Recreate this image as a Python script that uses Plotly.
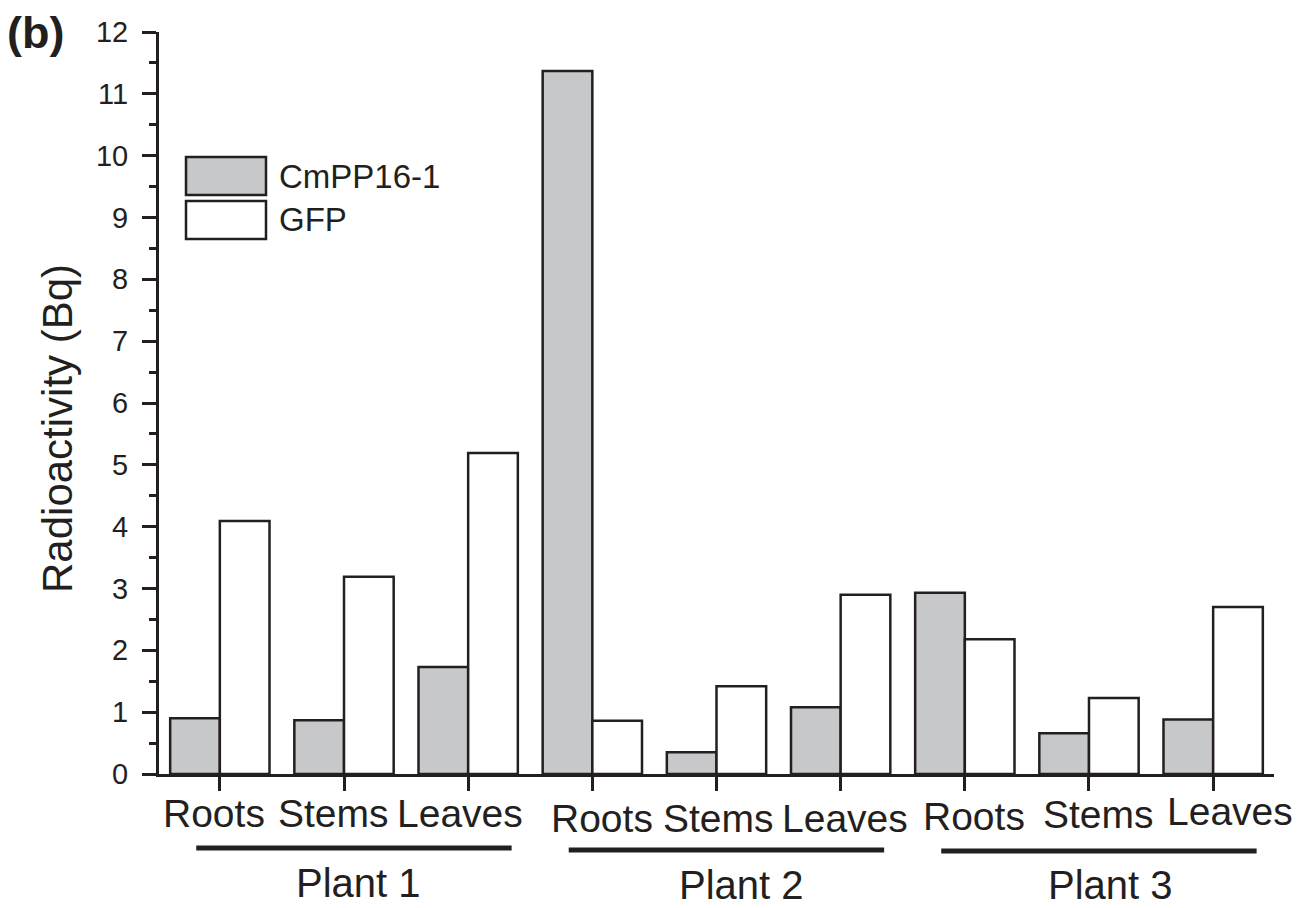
import plotly.graph_objects as go

# ---- data ----
tissues = ["Roots", "Stems", "Leaves", "Roots", "Stems", "Leaves", "Roots", "Stems", "Leaves"]
plants = ["Plant 1", "Plant 2", "Plant 3"]
cmpp16 = [0.90, 0.87, 1.73, 11.37, 0.35, 1.08, 2.93, 0.66, 0.88]
gfp = [4.09, 3.19, 5.19, 0.86, 1.42, 2.90, 2.18, 1.23, 2.70]
y_ticks = list(range(0, 13))

# ---- style ----
INK = "#231f20"
GREY = "#c7c8ca"
FONT = "Liberation Sans, Arial, sans-serif"
W, H = 1298, 908
ML, MR, MT, MB = 159, 24, 32, 134
PH = H - MT - MB


def py(y_px):
    """pixel row -> paper y"""
    return (H - MB - y_px) / PH


def px(x_px):
    """pixel column -> paper x"""
    return (x_px - ML) / (W - ML - MR)


xpos = list(range(len(tissues)))

fig = go.Figure()
fig.add_trace(go.Bar(x=xpos, y=cmpp16, name="CmPP16-1",
                     marker=dict(color=GREY, line=dict(color=INK, width=2.5))))
fig.add_trace(go.Bar(x=xpos, y=gfp, name="GFP",
                     marker=dict(color="white", line=dict(color=INK, width=2.5))))

annotations = []
shapes = []

# tissue labels under each tick (slightly staggered per plant)
label_dx = [-6, -11, -8, 10, 2, 4, 9, 10, 17]
label_y = [813, 813, 813, 818, 818, 818, 816, 815, 811]
for i, t in enumerate(tissues):
    annotations.append(dict(x=i, xref="x", y=py(label_y[i]), yref="paper",
                            text=t, showarrow=False, xshift=label_dx[i],
                            xanchor="center", yanchor="middle",
                            font=dict(family=FONT, size=39, color=INK)))

# plant brackets and names
plant_dx = [14, 25, 22]
plant_y = [883, 885, 885]
bar_y = [848, 850, 851]
for k, p in enumerate(plants):
    first, mid, last = 3 * k, 3 * k + 1, 3 * k + 2
    shapes.append(dict(type="line", xref="x", yref="paper",
                       x0=first - 0.19, x1=last + 0.35,
                       y0=py(bar_y[k]), y1=py(bar_y[k]),
                       line=dict(color=INK, width=5)))
    annotations.append(dict(x=mid, xref="x", y=py(plant_y[k]), yref="paper",
                            text=p, showarrow=False, xshift=plant_dx[k],
                            xanchor="center", yanchor="middle",
                            font=dict(family=FONT, size=40, color=INK)))

# legend boxes
for (name, fill, top, bot, mid) in [("CmPP16-1", GREY, 157, 195, 176),
                                    ("GFP", "white", 201, 239, 220)]:
    shapes.append(dict(type="rect", xref="paper", yref="paper",
                       x0=px(186), x1=px(266), y0=py(bot), y1=py(top),
                       fillcolor=fill, line=dict(color=INK, width=2.5)))
    annotations.append(dict(x=px(277), xref="paper", y=py(mid), yref="paper",
                            text=name, showarrow=False,
                            xanchor="left", yanchor="middle",
                            font=dict(family=FONT, size=33, color=INK)))

# y-axis title
annotations.append(dict(x=px(57), xref="paper", y=py(429), yref="paper",
                        text="Radioactivity (Bq)", textangle=-90, showarrow=False,
                        xanchor="center", yanchor="middle",
                        font=dict(family=FONT, size=42, color=INK)))
# panel letter
annotations.append(dict(x=px(35), xref="paper", y=py(32), yref="paper",
                        text="<b>(b)</b>", showarrow=False,
                        xanchor="center", yanchor="middle",
                        font=dict(family=FONT, size=45, color=INK)))

fig.update_layout(
    width=W, height=H,
    margin=dict(l=ML, r=MR, t=MT, b=MB),
    paper_bgcolor="white", plot_bgcolor="white",
    barmode="group", bargap=0.2, bargroupgap=0,
    showlegend=False,
    annotations=annotations, shapes=shapes,
    xaxis=dict(range=[-0.49, 8.49], tickvals=xpos, showticklabels=False,
               ticks="outside", ticklen=14, tickwidth=2.5, tickcolor=INK,
               showline=True, linecolor=INK, linewidth=3,
               showgrid=False, zeroline=False),
    yaxis=dict(range=[0, 12], tickvals=y_ticks, ticks="outside", ticklen=14,
               tickwidth=2.5, tickcolor=INK, showline=True, linecolor=INK,
               linewidth=3, showgrid=False, zeroline=False,
               ticklabelstandoff=8,
               tickfont=dict(family=FONT, size=29, color=INK),
               minor=dict(dtick=0.5, ticks="outside", ticklen=7, tickwidth=2.5,
                          tickcolor=INK, showgrid=False)),
)

fig.write_html("out.html")
